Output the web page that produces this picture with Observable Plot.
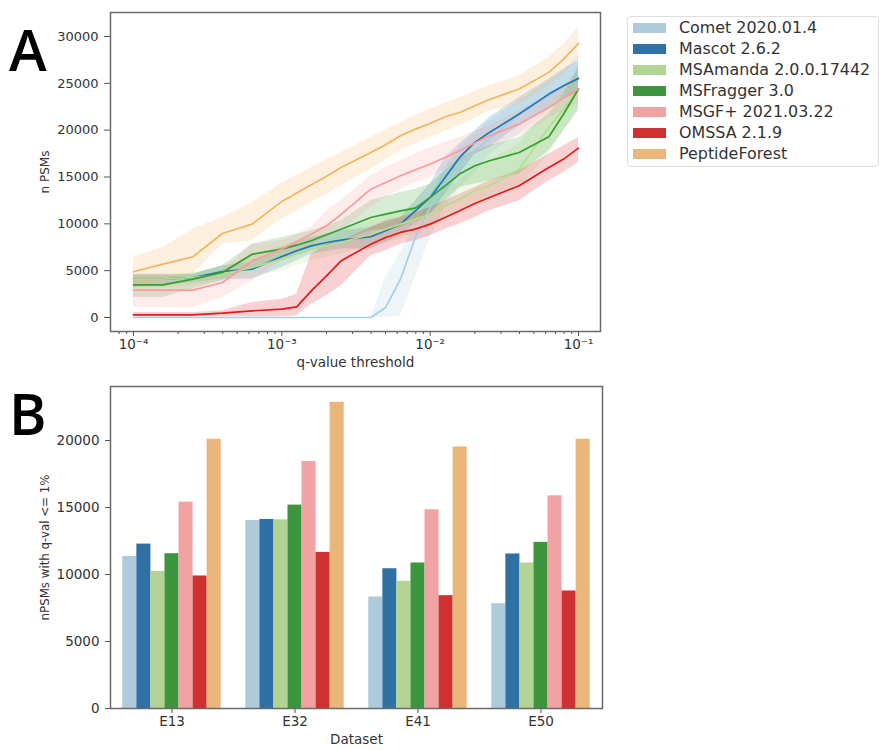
<!DOCTYPE html>
<html>
<head>
<meta charset="utf-8">
<script src="https://cdn.jsdelivr.net/npm/d3@7"></script>
<script src="https://cdn.jsdelivr.net/npm/@observablehq/plot@0.6"></script>
<style>
html,body{margin:0;padding:0;background:#fff;}
#page{position:relative;width:890px;height:750px;overflow:hidden;font-family:"DejaVu Sans",sans-serif;color:#333;}
#top,#bottom{position:absolute;left:0;}
#top{top:0;}#bottom{top:375px;}
.letter{position:absolute;font-family:"Open Sans",sans-serif;font-size:57px;line-height:57px;color:#000;font-weight:600;}
#legend{position:absolute;left:627px;top:16px;width:252px;height:151px;border:1.5px solid #ddd;border-radius:4px;box-sizing:border-box;}
.row{position:absolute;left:0;height:20px;width:100%;}
.sw{position:absolute;left:5px;top:5px;width:33px;height:10px;}
.lab{position:absolute;left:51px;top:0;font-size:15.9px;line-height:20px;white-space:nowrap;color:#333;}
svg text{fill:#333;}
</style>
</head>
<body>
<div id="page">
  <div id="top"></div>
  <div id="bottom"></div>
  <div class="letter" style="left:9px;top:21px">A</div>
  <div class="letter" style="left:9px;top:385px">B</div>
  <div id="legend"></div>
</div>
<script>
const tools = ["Comet 2020.01.4","Mascot 2.6.2","MSAmanda 2.0.0.17442","MSFragger 3.0","MSGF+ 2021.03.22","OMSSA 2.1.9","PeptideForest"];
const barColors = ["#aecbdc","#2f71a5","#b2d495","#3d963d","#f1a3a3","#cf3030","#ebb679"];
const lineColors = ["#a6cee3","#1f78b4","#b2df8a","#33a02c","#fb9a99","#e31a1c","#f5b45c"];

const qValues = [0.0001,0.000158,0.000251,0.000398,0.000631,0.001,0.00126,0.00158,0.002,0.00251,0.00398,0.00501,0.00631,0.00794,0.01,0.0126,0.0158,0.02,0.0251,0.0398,0.0631,0.0794,0.1];

const cometMean = [0,0,0,0,0,0,0,0,0,0,0,1070,4090,8540,11750,14240,16020,17800,19050,21720,23670,24740,25630];
const cometHi   = [0,0,0,0,0,0,0,0,0,0,0,4270,6940,9970,12820,16020,18160,19580,21000,23140,25280,26340,27950];
const cometLo   = [0,0,0,0,0,0,0,0,0,0,0,0,180,4270,8540,11750,13880,15310,17440,19580,22070,23320,23850];

const mascotMean = [4090,4090,4270,4910,5160,6510,7120,7650,8010,8260,8620,9260,9970,11390,12820,14950,17090,18690,19760,21720,23850,24740,25530];
const mascotHi   = [4630,4630,4630,5520,5870,7480,8010,8540,8900,9260,9610,10150,10680,12460,14240,17090,18510,19940,21360,23500,25450,26520,27410];
const mascotLo   = [3200,3380,3740,4090,4090,5340,6050,6760,7050,7300,7300,8010,8720,9970,11040,13170,15310,17440,18160,20470,22250,23320,24030];

const amandaMean = [4090,4090,4270,4630,5340,6230,6760,7300,7650,8010,8900,9430,9970,10500,11040,11930,12640,13530,14060,15840,20290,22250,24390];
const amandaHi   = [4630,4630,4810,5340,6590,7650,8190,8540,8900,9260,10320,10860,11390,11930,12460,13530,14600,16020,16730,18510,22780,24560,26700];
const amandaLo   = [3200,3200,3380,3920,4270,4980,5520,6050,6410,6760,7650,8010,8370,8900,9610,10500,11390,12280,12820,13880,17440,19940,22430];

const fraggerMean = [3490,3490,4090,4810,6760,7300,7720,8190,8830,9430,10680,11040,11390,11680,12820,14060,15310,16200,16730,17620,19300,21720,24390];
const fraggerHi   = [4450,4450,4630,5520,7830,8540,8900,9260,9790,10320,12460,12890,13350,13700,14240,15660,17090,17800,18330,19220,21720,23850,26700];
const fraggerLo   = [2140,2140,3030,3920,5340,6230,6690,7120,7650,8190,9260,9430,9610,10320,11040,12460,13880,14240,14600,15310,17800,19940,22070];

const msgfMean = [2920,2920,2920,3740,6050,7300,8120,8900,9790,11000,13700,14420,15130,15770,16380,17090,17800,18620,19400,20650,22430,23420,24390];
const msgfHi   = [4630,4630,4270,4980,7830,8190,8900,9610,11390,12460,15130,16020,16730,17440,18160,18690,19220,19860,20470,22070,23850,24850,25990];
const msgfLo   = [1070,1070,1070,2140,3920,6050,6940,7830,8540,9260,11750,12820,13700,14350,14950,15840,16730,17440,18160,19400,21180,22070,22960];

const omssaMean = [285,285,285,460,710,890,1140,2850,4450,6050,7830,8540,9080,9430,9970,10680,11390,12180,12820,14060,16020,16910,18080];
const omssaHi   = [530,530,530,710,1600,1960,2490,6760,7830,8190,9610,10320,10680,11210,11750,12460,13170,13880,14600,15660,17440,18330,19220];
const omssaLo   = [70,70,70,70,70,70,180,1420,2310,3380,6590,7120,7830,8190,8720,9430,9970,10680,11390,12460,14600,15490,16550];

const forestMean = [4880,5700,6480,8970,9970,12390,13280,14170,15090,16020,17620,18440,19400,20110,20720,21430,21890,22600,23280,24390,26170,27590,29260];
const forestHi   = [6480,7480,9430,10680,12280,14350,15200,16020,16840,17620,19220,20040,20830,21540,22250,22890,23500,24140,24740,25810,27770,29190,30970];
const forestLo   = [3200,3920,4630,7830,8190,10500,11390,12280,13170,14060,15840,16840,17800,18510,19220,19860,20470,21290,22070,22780,24740,25990,27590];

const datasets = ["E13","E32","E41","E50"];
const e13 = [11350,12270,10230,11550,15400,9890,20100];
const e32 = [14030,14110,14080,15180,18430,11650,22850];
const e41 = [8320,10430,9490,10860,14830,8420,19520];
const e50 = [7820,11530,10860,12400,15870,8770,20100];

const xMajor = [1e-4,1e-3,1e-2,1e-1];
const xLabels = ["10\u207B\u2074","10\u207B\u00B3","10\u207B\u00B2","10\u207B\u00B9"];
const xMinor = [8e-5,9e-5,2e-4,3e-4,4e-4,5e-4,6e-4,7e-4,8e-4,9e-4,2e-3,3e-3,4e-3,5e-3,6e-3,7e-3,8e-3,9e-3,2e-2,3e-2,4e-2,5e-2,6e-2,7e-2,8e-2,9e-2];
const yTop = [0,5000,10000,15000,20000,25000,30000];
const yBottom = [0,5000,10000,15000,20000];

const seriesTable = [
  [cometMean,cometLo,cometHi],[mascotMean,mascotLo,mascotHi],[amandaMean,amandaLo,amandaHi],
  [fraggerMean,fraggerLo,fraggerHi],[msgfMean,msgfLo,msgfHi],[omssaMean,omssaLo,omssaHi],[forestMean,forestLo,forestHi]
];
const longRows = seriesTable.flatMap(([m,l,h],i)=>qValues.map((q,j)=>({tool:tools[i],q,mean:m[j],lo:l[j],hi:h[j]})));
const frameColor = "#6a6a6a";
const tickColor = "#555";

const topPlot = Plot.plot({
  width:620,height:375,marginLeft:110,marginRight:20,marginTop:12,marginBottom:44,
  style:{fontFamily:"DejaVu Sans, sans-serif",fontSize:"13px",background:"#fff",color:"#333"},
  x:{type:"log",domain:[1e-4,1e-1],range:[133,578]},
  y:{domain:[0,30000],range:[317,36]},
  color:{domain:tools,range:lineColors},
  marks:[
    ...tools.map(t=>Plot.areaY(longRows.filter(d=>d.tool===t),{x:"q",y1:"lo",y2:"hi",fill:"tool",fillOpacity:0.2})),
    ...tools.map(t=>Plot.lineY(longRows.filter(d=>d.tool===t),{x:"q",y:"mean",stroke:"tool",strokeWidth:1.7})),
    Plot.axisX({ticks:xMinor,tickSize:3,tickFormat:()=>"",label:null,stroke:tickColor}),
    Plot.axisX({ticks:xMajor,tickSize:5,tickPadding:3,fontSize:13.5,tickFormat:d=>xLabels[xMajor.indexOf(d)],label:"q-value threshold",labelAnchor:"center",labelOffset:35,labelArrow:"none",stroke:tickColor}),
    Plot.axisY({ticks:yTop,tickSize:6,tickPadding:6,fontSize:13,tickFormat:d=>String(d),label:null,stroke:tickColor}),
    Plot.axisY({ticks:[],fontSize:12,label:"n PSMs",labelAnchor:"center",labelOffset:70,labelArrow:"none"}),
    Plot.frame({stroke:frameColor,strokeWidth:1.5})
  ]
});
document.getElementById("top").append(topPlot);

const barRows = [e13,e32,e41,e50].flatMap((arr,i)=>arr.map((v,j)=>({group:i,slot:j,tool:tools[j],value:v})));
const groupWidth = 0.8;
const bottomPlot = Plot.plot({
  width:620,height:375,marginLeft:110,marginRight:18,marginTop:11,marginBottom:42,
  style:{fontFamily:"DejaVu Sans, sans-serif",fontSize:"13.5px",background:"#fff",color:"#333"},
  x:{domain:[-0.5,3.5]},
  y:{domain:[0,24030]},
  color:{domain:tools,range:barColors},
  marks:[
    Plot.rectY(barRows,{
      x1:d=>d.group-groupWidth/2+d.slot*groupWidth/tools.length,
      x2:d=>d.group-groupWidth/2+(d.slot+1)*groupWidth/tools.length,
      y:"value",fill:"tool"
    }),
    Plot.axisX({ticks:[0,1,2,3],tickSize:5,tickPadding:3,tickFormat:d=>datasets[d],label:"Dataset",labelAnchor:"center",labelOffset:35,labelArrow:"none",stroke:tickColor}),
    Plot.axisY({ticks:yBottom,tickSize:5,tickPadding:6,tickFormat:d=>String(d),label:null,stroke:tickColor}),
    Plot.axisY({ticks:[],fontSize:11.8,label:"nPSMs with q-val <= 1%",labelAnchor:"center",labelOffset:70,labelArrow:"none"}),
    Plot.frame({stroke:frameColor,strokeWidth:1.5})
  ]
});
document.getElementById("bottom").append(bottomPlot);

const legend = document.getElementById("legend");
tools.forEach((t,i)=>{
  const r=document.createElement("div");r.className="row";r.style.top=(1+i*21)+"px";
  const s=document.createElement("div");s.className="sw";s.style.background=barColors[i];
  const l=document.createElement("div");l.className="lab";l.textContent=t;
  r.append(s,l);legend.append(r);
});
</script>
</body>
</html>
